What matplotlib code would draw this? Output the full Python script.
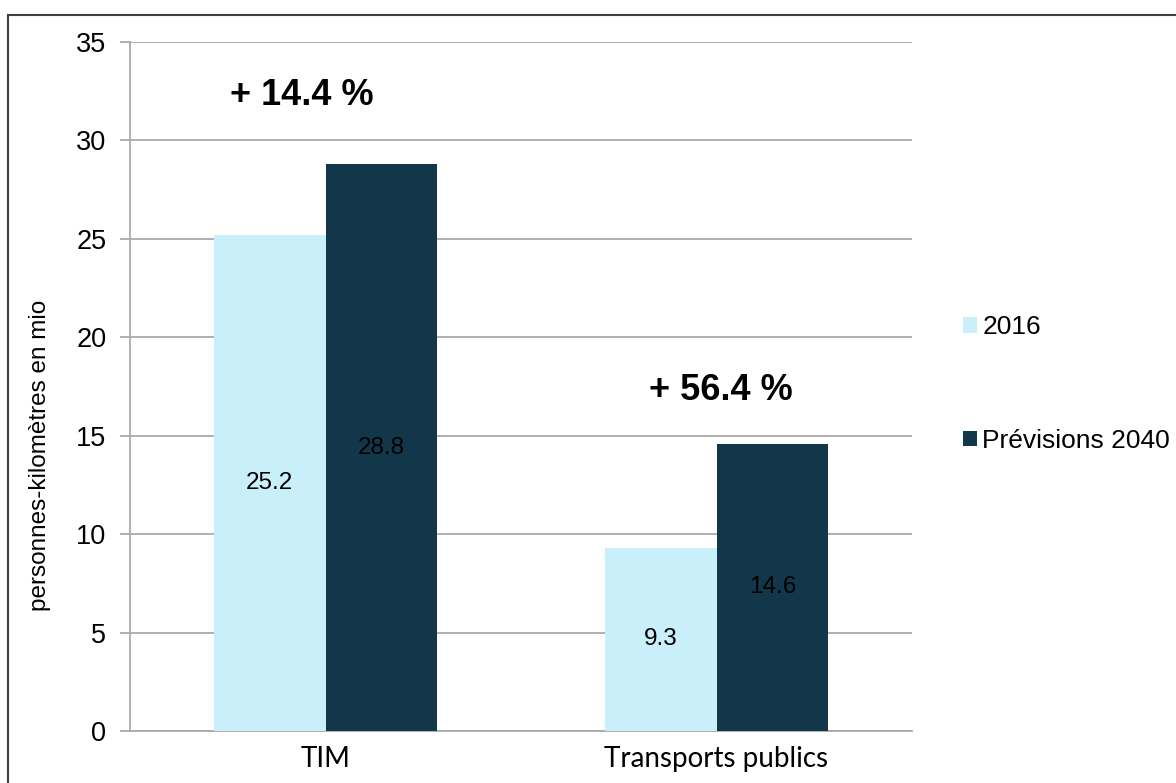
import matplotlib
matplotlib.use("Agg")
import matplotlib.pyplot as plt
from matplotlib.lines import Line2D
import numpy as np

categories = ["TIM", "Transports publics"]
series_names = ["2016", "Prévisions 2040"]
values_2016 = [25.2, 9.3]
values_2040 = [28.8, 14.6]
growth_labels = ["+ 14.4 %", "+ 56.4 %"]

light = "#C9EFFB"
dark = "#12374A"
grid_col = "#A9A9A9"

W, H = 1176, 783
fig = plt.figure(figsize=(W / 100, H / 100), dpi=100)
ax = fig.add_axes([130 / W, 1 - 731 / H, (912 - 130) / W, (731 - 42) / H])

x = np.arange(len(categories))
w = 0.286
b1 = ax.bar(x - w / 2, values_2016, w, color=light, label=series_names[0], zorder=3)
b2 = ax.bar(x + w / 2, values_2040, w, color=dark, label=series_names[1], zorder=3)

# values written at half bar height
for bars, vals in ((b1, values_2016), (b2, values_2040)):
    for rect, v in zip(bars, vals):
        ax.text(rect.get_x() + rect.get_width() / 2, v / 2, f"{v:.1f}",
                ha="center", va="center", fontsize=17.5, color="black",
                family="Liberation Sans", zorder=4)

# growth annotations above each group
ax.text(-0.06, 32.3, growth_labels[0], ha="center", va="center",
        fontsize=26, fontweight="bold", family="Liberation Sans")
ax.text(1.01, 17.3, growth_labels[1], ha="center", va="center",
        fontsize=26, fontweight="bold", family="Liberation Sans")

ax.set_xlim(-0.5, 1.5)
ax.set_ylim(0, 35)
ax.set_yticks(range(0, 36, 5))
ax.set_xticks(x)
ax.set_xticklabels(categories, family="Lato", fontsize=20)
for lab in ax.get_yticklabels():
    lab.set_family("Liberation Sans")
    lab.set_fontsize(19.5)

ax.yaxis.grid(True, color=grid_col, linewidth=1.3, zorder=0)
ax.tick_params(axis="y", direction="out", length=7, width=1.3, color=grid_col, pad=10)
ax.tick_params(axis="x", length=0, pad=11)
for side in ("top", "right"):
    ax.spines[side].set_visible(False)
for side in ("left", "bottom"):
    ax.spines[side].set_color(grid_col)
    ax.spines[side].set_linewidth(1.3)

fig.text(40 / W, 1 - 455 / H, "personnes-kilomètres en mio", rotation=90,
         ha="center", va="center", fontsize=17.5, family="Liberation Sans")

fig.legend(handles=[b1, b2], labels=series_names, loc="center left",
           bbox_to_anchor=(952 / W, 1 - 384 / H), frameon=False,
           prop={"family": "Liberation Sans", "size": 19},
           handlelength=0.55, handleheight=0.55, handletextpad=0.2,
           labelspacing=3.4, borderaxespad=0)

# outer frame, top and left edges
fig.add_artist(Line2D([8 / W, 1.0], [1 - 15 / H, 1 - 15 / H], color="#404040", linewidth=1.5))
fig.add_artist(Line2D([8 / W, 8 / W], [0, 1 - 15 / H], color="#404040", linewidth=1.5))

fig.savefig("out.png", dpi=100)
